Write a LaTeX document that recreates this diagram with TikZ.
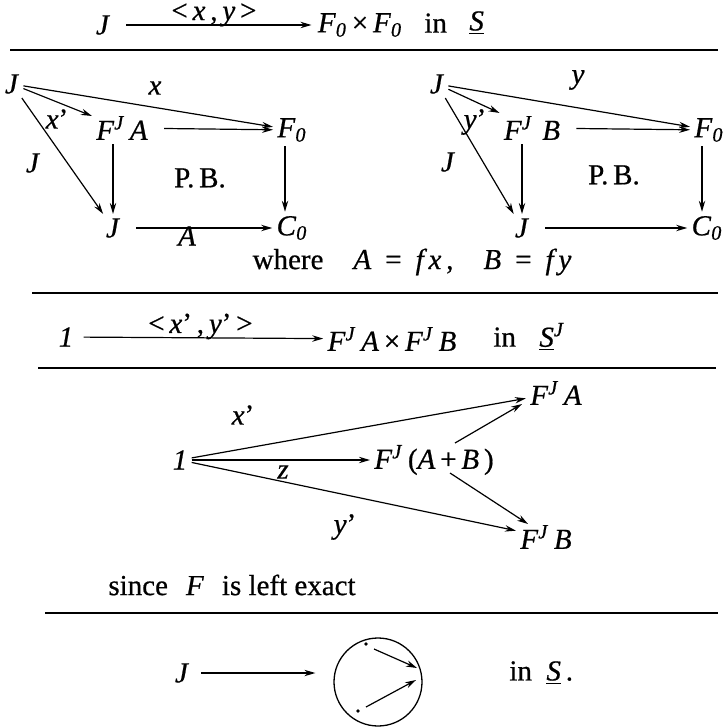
\documentclass[tikz,border=0pt]{standalone}
\usepackage{fontspec}
\setmainfont{Liberation Serif}[FakeBold=0.6, ItalicFeatures={FakeBold=0.6}]
\usetikzlibrary{arrows.meta}
\newcommand{\mi}[1]{\textit{#1}}
\newcommand{\lo}[1]{\textsubscript{\textit{#1}}}
\newcommand{\hi}[1]{\textsuperscript{\textit{#1}}}
\newcommand{\sps}{\hspace{7pt}}
\newcommand{\spd}{\hspace{15pt}}
\begin{document}
\begin{tikzpicture}[x=0.5pt,y=-0.5pt,
  every node/.style={inner sep=2pt, font=\fontsize{14.5}{16}\selectfont},
  arr/.style={-{Stealth[length=5.5pt,width=3.2pt]}, line width=0.6pt},
  rulel/.style={line width=0.85pt},
  lbl/.style={inner sep=0pt},
  dotp/.style={circle, fill, inner sep=0pt, minimum size=1.8pt}]
\useasboundingbox (0,0) rectangle (725,727);

% ---- line 1
\node (t1) at (103,25) {\mi{J}};
\node (t2) at (360,25) {\mi{F}\lo{0}\,×\,\mi{F}\lo{0}};
\node[anchor=west] (t3) at (420,23) {in};
\node[anchor=west] (t4) at (465,23) {\underline{\mi{S}}};
\draw[arr, shorten <=6pt, shorten >=1pt] (t1) -- node[above, lbl, yshift=-1pt] {<\,\mi{x}\,,\,\mi{y}\,>} (t2);
\draw[rulel] (10,50) -- (718,50);

% ---- diagram 1
\node (a1) at (12,84) {\mi{J}};
\node (a2) at (122,128) {\mi{F}\hi{J}\,\mi{A}};
\node (a3) at (292,130) {\mi{F}\lo{0}};
\node (a4) at (113,228) {\mi{J}};
\node (a5) at (292,228) {\mi{C}\lo{0}};
\node (pb1) at (200,178) {P.\,B.};
\draw[arr] (a1) -- (a3);
\node[lbl] (lx) at (155,88) {\mi{x}};
\draw[arr] (a1) -- (a2);
\node[lbl] (lxp) at (57,119) {\mi{x}'};
\draw[arr] (a1) -- (a4);
\node[lbl] (lj1) at (33,163) {\mi{J}};
\draw[arr, shorten <=6pt] (a2) -- (a3);
\draw[arr] (a2.south -| a4) -- (a4);
\draw[arr] (a3.south -| 285,0) -- (a5.north -| 285,0);
\draw[arr, shorten <=6pt] (a4) -- (a5);
\node[lbl] (la) at (187,236) {\mi{A}};

% ---- diagram 2
\node (b1) at (437,84) {\mi{J}};
\node (b2) at (532,128) {\mi{F}\hi{J}\,\,\mi{B}};
\node (b3) at (709,130) {\mi{F}\lo{0}};
\node (b4) at (522,228) {\mi{J}};
\node (b5) at (707,228) {\mi{C}\lo{0}};
\node (pb2) at (614,175) {P.\,B.};
\draw[arr] (b1) -- (b3);
\node[lbl] (ly) at (578,80) {\mi{y}};
\draw[arr] (b1) -- (b2);
\node[lbl] (lyp) at (475,122) {\mi{y}'};
\draw[arr] (b1) -- (b4);
\node[lbl] (lj2) at (448,162) {\mi{J}};
\draw[arr, shorten <=6pt] (b2) -- (b3);
\draw[arr] (b2.south -| b4) -- (b4);
\draw[arr] (b3.south -| 702,0) -- (b5.north -| 702,0);
\draw[arr, shorten <=6pt] (b4) -- (b5);

\node (wh) at (412,262) {where\spd\mi{A}\sps=\sps\mi{f\,x}\,,\spd\mi{B}\sps=\sps\mi{f\,y}};
\draw[rulel] (32,293) -- (718,293);

% ---- line 2
\node (n1) at (66,337) {\mi{1}};
\node (n2) at (392,339) {\mi{F}\hi{J}\,\mi{A}\,×\,\mi{F}\hi{J}\,\mi{B}};
\node[anchor=west] (n3) at (489,337) {in};
\node[anchor=west] (n4) at (535,337) {\underline{\mi{S}}\hi{J}};
\draw[arr, shorten <=3pt] (n1) -- node[above, lbl, yshift=-1pt] {<\,\mi{x}'\,,\,\mi{y}'\,>} (n2);
\draw[rulel] (38,368) -- (716,368);

% ---- diagram 3
\node (c1) at (180,460) {\mi{1}};
\node (c2) at (434,460) {\mi{F}\hi{J}\,(\mi{A}\,+\,\mi{B}\,)};
\node (c3) at (556,393) {\mi{F}\hi{J}\,\mi{A}};
\node (c4) at (546,537) {\mi{F}\hi{J}\,\mi{B}};
\coordinate (c2a) at (455,443);
\coordinate (c3a) at (522,404);
\coordinate (c2b) at (450,473);
\coordinate (c4a) at (528,524);
\draw[arr] (c1) -- (c3);
\node[lbl] (lx3) at (243,415) {\mi{x}'};
\draw[arr] (c1) -- (c2);
\node[lbl] (lz) at (283,472) {\mi{z}};
\draw[arr] (c1) -- (c4);
\node[lbl] (ly3) at (345,527) {\mi{y}'};
\draw[arr] (c2a) -- (c3a);
\draw[arr] (c2b) -- (c4a);

\node[anchor=west] (since) at (104,585) {since\hspace{9pt}\mi{F}\hspace{9pt}is left exact};
\draw[rulel] (45,613) -- (718,613);

% ---- bottom
\node (d1) at (182,673) {\mi{J}};
\node[draw, circle, line width=0.65pt, minimum size=44pt, inner sep=0pt] (d2) at (378,682) {};
\draw[arr, shorten <=4pt, shorten >=9pt] (d1) -- (d1 -| d2.west);
\node[dotp] (p1) at (366,644) {};
\node[dotp] (p2) at (358,711) {};
\coordinate (q1) at (417,668);
\coordinate (q2) at (416,680);
\draw[arr] (p1) ++(8,5) -- (q1);
\draw[arr] (p2) ++(8,-4) -- (q2);
\node[anchor=west] (d3) at (505,673) {in\ \ \underline{\mi{S}}\,.};
\end{tikzpicture}
\end{document}
